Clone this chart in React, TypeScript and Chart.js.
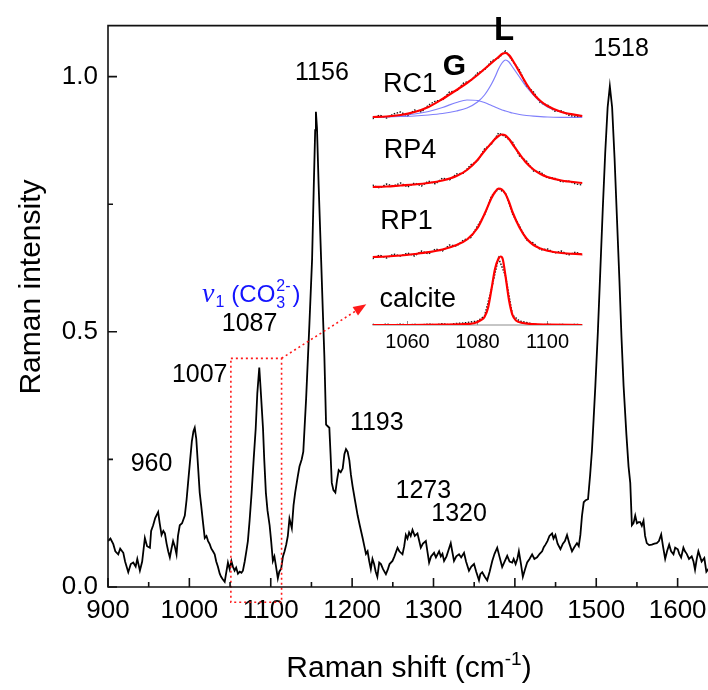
import React, { useEffect, useRef } from "react";
import { Chart, registerables } from "chart.js";

Chart.register(...registerables);

const SANS = "'Liberation Sans', Arial, sans-serif";
const SERIF = "'Liberation Serif', 'Times New Roman', serif";

// ---------- main spectrum ----------
const ramanShift = [
  900, 903, 906.5, 909, 912.6, 915, 918.8, 921, 924.9, 928,
  931, 934, 936, 939.2, 942, 945.3, 948, 951.5, 953, 955.5,
  958, 961.6, 963.5, 965.8, 968, 969.9, 972, 974, 976, 978,
  980, 982, 984.2, 986, 988.2, 991, 994.4, 996.5, 998.4, 1001,
  1003, 1005, 1006.6, 1008.5, 1010.5, 1012.7, 1014.5, 1016.5, 1018.9, 1021,
  1023, 1025, 1027, 1029, 1031.1, 1033, 1035, 1037.3, 1039, 1041,
  1043.4, 1045.5, 1047.4, 1049.5, 1051.6, 1053.5, 1055.6, 1057.5, 1059.7, 1062,
  1064, 1065.8, 1068, 1070, 1071.9, 1074, 1076.5, 1079, 1081.5, 1083.5,
  1085.9, 1087.5, 1089, 1090.5, 1092, 1094, 1096, 1098.6, 1100.5, 1102.6,
  1104.5, 1106.5, 1108.7, 1110.5, 1112.8, 1115, 1117, 1119, 1121, 1123,
  1125.9, 1128, 1130, 1133, 1135.3, 1138, 1140, 1143.5, 1147.5, 1150.8,
  1152.8, 1154.6, 1155.5, 1156.8, 1158.8, 1161.9, 1164, 1165.9, 1168, 1170,
  1172, 1173.5, 1175, 1177, 1179.4, 1181.5, 1183.5, 1186, 1188.4, 1190.5,
  1192.5, 1194.5, 1196.6, 1198.5, 1200.6, 1203.5, 1206.8, 1209.5, 1212.9, 1215,
  1217, 1219, 1221, 1223, 1225, 1227, 1229, 1231, 1233.3, 1235.4,
  1238, 1241.5, 1244, 1246, 1249.6, 1252, 1255.8, 1258, 1261.9, 1264,
  1266, 1268, 1270, 1272, 1274.2, 1277, 1280.3, 1282.5, 1284.4, 1287,
  1290.6, 1292.5, 1294.6, 1297, 1300.7, 1303, 1306.9, 1309, 1311, 1313,
  1316, 1318, 1321.2, 1323, 1325.2, 1328, 1331.4, 1334, 1337.5, 1340,
  1343.6, 1346.5, 1349.8, 1352.5, 1355.9, 1357.5, 1359.9, 1363, 1366, 1369,
  1372.2, 1375, 1378.3, 1381, 1384.4, 1387.5, 1390.6, 1393.5, 1396.7, 1398.5,
  1400.9, 1403, 1404.9, 1407.5, 1409.8, 1412.5, 1415.1, 1418, 1421.2, 1424,
  1427.3, 1430.5, 1433.5, 1435.5, 1437.6, 1440, 1442.5, 1445.7, 1447.5, 1449.8,
  1452.5, 1456, 1459, 1461.5, 1464.1, 1467, 1470.2, 1473, 1476.3, 1478.5,
  1480.5, 1482.5, 1484.6, 1487, 1489.9, 1492.5, 1494.7, 1496.8, 1498.9, 1502,
  1505, 1508, 1511, 1514, 1516.7, 1519.5, 1522.5, 1525.5, 1528.5, 1531,
  1533.6, 1537, 1539.7, 1541.8, 1543.8, 1545.8, 1547.9, 1550, 1552, 1554,
  1556, 1558.1, 1560, 1562.1, 1565, 1568.3, 1571.5, 1574.4, 1577, 1579.8,
  1582, 1584.7, 1587, 1589.6, 1592, 1594.9, 1597, 1600.2, 1602, 1604.3,
  1607.1, 1609, 1611.2, 1614, 1617.3, 1619.5, 1621.4, 1623.5, 1625.5, 1627.5,
  1629.5, 1632.8, 1635.3, 1640,
];
const ramanIntensity = [
  0.09, 0.095, 0.084, 0.07, 0.064, 0.075, 0.067, 0.05, 0.029, 0.045,
  0.048, 0.04, 0.055, 0.032, 0.05, 0.096, 0.08, 0.077, 0.11, 0.121,
  0.135, 0.147, 0.125, 0.102, 0.11, 0.105, 0.085, 0.07, 0.058, 0.075,
  0.09, 0.08, 0.064, 0.1, 0.121, 0.125, 0.14, 0.17, 0.204, 0.25,
  0.285, 0.305, 0.312, 0.29, 0.24, 0.185, 0.16, 0.13, 0.096, 0.1,
  0.09, 0.084, 0.075, 0.07, 0.064, 0.05, 0.04, 0.026, 0.02, 0.015,
  0.01, 0.03, 0.048, 0.035, 0.051, 0.04, 0.032, 0.038, 0.026, 0.03,
  0.028, 0.032, 0.05, 0.07, 0.09, 0.13, 0.185, 0.25, 0.31, 0.38,
  0.43, 0.39, 0.35, 0.31, 0.25, 0.185, 0.15, 0.121, 0.09, 0.051,
  0.06, 0.04, 0.017, 0.03, 0.036, 0.06, 0.07, 0.083, 0.1, 0.134,
  0.115, 0.16, 0.185, 0.215, 0.236, 0.25, 0.265, 0.37, 0.515, 0.642,
  0.78, 0.895, 0.931, 0.9, 0.79, 0.642, 0.54, 0.451, 0.318, 0.315,
  0.312, 0.26, 0.204, 0.19, 0.185, 0.21, 0.229, 0.225, 0.232, 0.26,
  0.27, 0.265, 0.248, 0.22, 0.197, 0.17, 0.14, 0.12, 0.096, 0.08,
  0.065, 0.07, 0.051, 0.035, 0.055, 0.045, 0.03, 0.02, 0.048, 0.045,
  0.035, 0.025, 0.035, 0.045, 0.051, 0.06, 0.077, 0.07, 0.064, 0.08,
  0.102, 0.095, 0.107, 0.1, 0.112, 0.1, 0.105, 0.09, 0.077, 0.085,
  0.09, 0.07, 0.048, 0.06, 0.067, 0.058, 0.07, 0.06, 0.065, 0.051,
  0.06, 0.07, 0.086, 0.07, 0.051, 0.06, 0.064, 0.058, 0.067, 0.05,
  0.032, 0.04, 0.045, 0.03, 0.013, 0.025, 0.029, 0.02, 0.013, 0.03,
  0.051, 0.065, 0.077, 0.06, 0.039, 0.05, 0.061, 0.05, 0.048, 0.055,
  0.045, 0.055, 0.07, 0.045, 0.02, 0.035, 0.048, 0.055, 0.064, 0.055,
  0.058, 0.065, 0.07, 0.078, 0.083, 0.09, 0.1, 0.105, 0.095, 0.102,
  0.085, 0.074, 0.085, 0.09, 0.102, 0.085, 0.07, 0.078, 0.086, 0.08,
  0.102, 0.14, 0.166, 0.17, 0.172, 0.22, 0.267, 0.33, 0.394, 0.5,
  0.62, 0.74, 0.85, 0.94, 0.981, 0.94, 0.84, 0.72, 0.6, 0.49,
  0.394, 0.3, 0.236, 0.204, 0.121, 0.125, 0.14, 0.125, 0.127, 0.127,
  0.12, 0.13, 0.1, 0.086, 0.082, 0.083, 0.085, 0.086, 0.09, 0.103,
  0.08, 0.055, 0.07, 0.083, 0.07, 0.064, 0.077, 0.074, 0.065, 0.058,
  0.077, 0.07, 0.065, 0.055, 0.06, 0.05, 0.034, 0.055, 0.07, 0.06,
  0.05, 0.057, 0.03, 0.04,
];

const xTickValues = [900, 1000, 1100, 1200, 1300, 1400, 1500, 1600];
const xMinorTickValues = [950, 1050, 1150, 1250, 1350, 1450, 1550, 1650];
const yTickValues = [0, 0.5, 1.0];
const yMinorTickValues = [0.25, 0.75];

const peakLabels = ["960", "1007", "1087", "1156", "1193", "1273", "1320", "1518"];
const peakLabelShift = [953.5, 1012.7, 1074, 1162.9, 1230.3, 1287.5, 1331.4, 1530.5];
const peakLabelIntensity = [0.24, 0.415, 0.516, 1.007, 0.322, 0.187, 0.142, 1.053];

// zoom box (shift range, intensity range) and arrow tip
const boxShift = [1051, 1113.3];
const boxIntensity = [-0.03, 0.448];
const arrowTip = [1217.4, 0.554];
const nuAnchor = [1015.5, 0.558];

// ---------- inset ----------
const insetFitX = [1050, 1054, 1058, 1062, 1066, 1070, 1074, 1077, 1080, 1082, 1084, 1085, 1086, 1087, 1088, 1089, 1090, 1092, 1094, 1096, 1098, 1100, 1104, 1110];
const rc1Fit = [2.08, 2.085, 2.1, 2.13, 2.18, 2.26, 2.35, 2.42, 2.5, 2.56, 2.62, 2.65, 2.68, 2.71, 2.72, 2.7, 2.65, 2.53, 2.41, 2.31, 2.24, 2.19, 2.13, 2.09];
const rc1G = [2.08, 2.085, 2.095, 2.11, 2.135, 2.175, 2.225, 2.25, 2.245, 2.225, 2.195, 2.18, 2.165, 2.15, 2.14, 2.13, 2.12, 2.105, 2.095, 2.088, 2.083, 2.08, 2.077, 2.075];
const rc1L = [2.075, 2.08, 2.085, 2.09, 2.1, 2.115, 2.14, 2.17, 2.23, 2.3, 2.41, 2.48, 2.56, 2.62, 2.65, 2.63, 2.58, 2.48, 2.38, 2.3, 2.23, 2.18, 2.13, 2.09];
const rp4Fit = [1.38, 1.385, 1.395, 1.405, 1.42, 1.445, 1.49, 1.55, 1.65, 1.74, 1.82, 1.86, 1.89, 1.905, 1.895, 1.86, 1.81, 1.71, 1.62, 1.555, 1.51, 1.48, 1.445, 1.42];
const rp1Fit = [0.68, 0.685, 0.695, 0.71, 0.728, 0.755, 0.8, 0.855, 0.97, 1.11, 1.27, 1.33, 1.365, 1.355, 1.31, 1.23, 1.13, 0.975, 0.865, 0.8, 0.765, 0.742, 0.72, 0.707];
const calciteX = [1050, 1060, 1070, 1076, 1079, 1081, 1082, 1083, 1084, 1085, 1086, 1086.6, 1087.2, 1088, 1089, 1090, 1091, 1093, 1096, 1100, 1110];
const calciteFit = [0, 0, 0.003, 0.008, 0.017, 0.05, 0.08, 0.17, 0.36, 0.56, 0.665, 0.685, 0.66, 0.49, 0.25, 0.1, 0.045, 0.02, 0.008, 0.004, 0];

const insetRawX = [
  1050, 1052, 1054, 1056, 1058, 1060, 1062, 1064, 1066, 1068, 1070, 1072, 1074, 1076, 1078, 1080,
  1082, 1084, 1086, 1088, 1090, 1092, 1094, 1096, 1098, 1100, 1102, 1104, 1106, 1108, 1110,
];
const rc1Raw = [2.06, 2.1, 2.07, 2.11, 2.13, 2.09, 2.15, 2.13, 2.2, 2.24, 2.25, 2.33, 2.34, 2.42, 2.44, 2.52, 2.55, 2.64, 2.67, 2.74, 2.64, 2.55, 2.39, 2.33, 2.22, 2.2, 2.14, 2.14, 2.1, 2.08, 2.09];
const rp4Raw = [1.4, 1.37, 1.41, 1.39, 1.42, 1.38, 1.42, 1.39, 1.44, 1.41, 1.47, 1.45, 1.51, 1.52, 1.6, 1.64, 1.76, 1.81, 1.92, 1.88, 1.83, 1.69, 1.64, 1.54, 1.53, 1.47, 1.47, 1.43, 1.44, 1.41, 1.4];
const rp1Raw = [0.66, 0.7, 0.67, 0.71, 0.69, 0.72, 0.69, 0.74, 0.71, 0.76, 0.74, 0.8, 0.79, 0.85, 0.87, 0.99, 1.1, 1.29, 1.36, 1.32, 1.11, 0.99, 0.85, 0.82, 0.75, 0.76, 0.72, 0.74, 0.7, 0.73, 0.7];
const calciteRaw = [0.006, 0.0, 0.008, 0.001, 0.009, 0.0, 0.006, 0.0, 0.01, 0.002, 0.012, 0.003, 0.016, 0.02, 0.03, 0.04, 0.09, 0.36, 0.67, 0.49, 0.1, 0.04, 0.025, 0.008, 0.0, 0.008, 0.0, 0.006, 0.0, 0.007, 0.0];

const insetTickValues = [1060, 1080, 1100];
const insetLabels = ["RC1", "RP4", "RP1", "calcite"];
const insetLabelX = [1060.7, 1060.7, 1059.7, 1062.9];
const insetLabelY = [2.4, 1.74, 1.03, 0.25];
const componentLabels = ["G", "L"];
const componentLabelX = [1073.4, 1087.6];
const componentLabelY = [2.585, 2.945];

const pts = (xs: number[], ys: number[]) => xs.map((x, i) => ({ x, y: ys[i] }));

const mainDecor = {
  id: "mainDecor",
  afterDatasetsDraw(chart: any) {
    const { ctx } = chart;
    const x = chart.scales.x;
    const y = chart.scales.y;
    ctx.save();
    ctx.strokeStyle = "#ff1a1a";
    ctx.lineWidth = 1.6;
    ctx.setLineDash([2, 3]);
    const bx0 = x.getPixelForValue(boxShift[0]);
    const bx1 = x.getPixelForValue(boxShift[1]);
    const byB = y.getPixelForValue(boxIntensity[0]);
    const byT = y.getPixelForValue(boxIntensity[1]);
    ctx.beginPath();
    ctx.rect(bx0, byT, bx1 - bx0, byB - byT);
    ctx.stroke();
    const tx = x.getPixelForValue(arrowTip[0]);
    const ty = y.getPixelForValue(arrowTip[1]);
    const ang = Math.atan2(ty - byT, tx - bx1);
    const hl = 13;
    const hw = 5;
    const bxh = tx - hl * Math.cos(ang);
    const byh = ty - hl * Math.sin(ang);
    ctx.beginPath();
    ctx.moveTo(bx1, byT);
    ctx.lineTo(bxh, byh);
    ctx.stroke();
    ctx.setLineDash([]);
    ctx.fillStyle = "#ff1a1a";
    ctx.beginPath();
    ctx.moveTo(tx, ty);
    ctx.lineTo(bxh + hw * Math.sin(ang), byh - hw * Math.cos(ang));
    ctx.lineTo(bxh - hw * Math.sin(ang), byh + hw * Math.cos(ang));
    ctx.closePath();
    ctx.fill();
    ctx.restore();
  },
  afterDraw(chart: any) {
    const { ctx, chartArea: ca } = chart;
    const x = chart.scales.x;
    const y = chart.scales.y;
    ctx.save();
    ctx.strokeStyle = "#111";
    ctx.lineWidth = 1.6;
    ctx.beginPath();
    ctx.moveTo(ca.right, ca.top);
    ctx.lineTo(ca.left, ca.top);
    ctx.lineTo(ca.left, ca.bottom);
    ctx.lineTo(ca.right, ca.bottom);
    ctx.stroke();
    ctx.beginPath();
    xTickValues.forEach((v) => {
      const p = x.getPixelForValue(v);
      ctx.moveTo(p, ca.bottom);
      ctx.lineTo(p, ca.bottom - 9);
    });
    xMinorTickValues.forEach((v) => {
      const p = x.getPixelForValue(v);
      ctx.moveTo(p, ca.bottom);
      ctx.lineTo(p, ca.bottom - 5);
    });
    yTickValues.forEach((v) => {
      const p = y.getPixelForValue(v);
      ctx.moveTo(ca.left, p);
      ctx.lineTo(ca.left + 9, p);
    });
    yMinorTickValues.forEach((v) => {
      const p = y.getPixelForValue(v);
      ctx.moveTo(ca.left, p);
      ctx.lineTo(ca.left + 5, p);
    });
    ctx.stroke();

    // peak labels
    ctx.fillStyle = "#000";
    ctx.font = `25px ${SANS}`;
    ctx.textAlign = "center";
    ctx.textBaseline = "middle";
    peakLabels.forEach((t, i) => {
      ctx.fillText(t, x.getPixelForValue(peakLabelShift[i]), y.getPixelForValue(peakLabelIntensity[i]));
    });

    // nu1 (CO3 2-)
    ctx.fillStyle = "#1414ff";
    ctx.textAlign = "left";
    ctx.textBaseline = "alphabetic";
    let cx = x.getPixelForValue(nuAnchor[0]);
    const base = y.getPixelForValue(nuAnchor[1]);
    ctx.font = `italic 28px ${SERIF}`;
    ctx.fillText("ν", cx, base);
    cx += ctx.measureText("ν").width + 1;
    ctx.font = `16px ${SANS}`;
    ctx.fillText("1", cx, base + 5);
    cx += ctx.measureText("1").width + 7;
    ctx.font = `24px ${SANS}`;
    ctx.fillText("(CO", cx, base);
    cx += ctx.measureText("(CO").width + 1;
    ctx.font = `16px ${SANS}`;
    ctx.fillText("3", cx, base + 6);
    ctx.fillText("2-", cx, base - 11);
    cx += ctx.measureText("2-").width + 2;
    ctx.font = `24px ${SANS}`;
    ctx.fillText(")", cx, base);

    // axis titles
    ctx.fillStyle = "#000";
    ctx.font = `30px ${SANS}`;
    ctx.save();
    ctx.translate(32, 287);
    ctx.rotate(-Math.PI / 2);
    ctx.textAlign = "center";
    ctx.textBaseline = "middle";
    ctx.fillText("Raman intensity", 0, 0);
    ctx.restore();

    const main = "Raman shift (cm";
    const sup = "-1";
    const close = ")";
    ctx.font = `30px ${SANS}`;
    const w1 = ctx.measureText(main).width;
    const w3 = ctx.measureText(close).width;
    ctx.font = `19px ${SANS}`;
    const w2 = ctx.measureText(sup).width;
    let sx = 409 - (w1 + w2 + w3) / 2;
    const sb = 677;
    ctx.textAlign = "left";
    ctx.textBaseline = "alphabetic";
    ctx.font = `30px ${SANS}`;
    ctx.fillText(main, sx, sb);
    sx += w1;
    ctx.font = `19px ${SANS}`;
    ctx.fillText(sup, sx, sb - 12);
    sx += w2;
    ctx.font = `30px ${SANS}`;
    ctx.fillText(close, sx, sb);
    ctx.restore();
  },
};

const insetDecor = {
  id: "insetDecor",
  beforeDatasetsDraw(chart: any) {
    const { ctx, chartArea: ca } = chart;
    const x = chart.scales.x;
    ctx.save();
    ctx.strokeStyle = "#8c8c8c";
    ctx.lineWidth = 1;
    ctx.beginPath();
    ctx.moveTo(ca.left, ca.bottom);
    ctx.lineTo(ca.right, ca.bottom);
    insetTickValues.forEach((v) => {
      const p = x.getPixelForValue(v);
      ctx.moveTo(p, ca.bottom);
      ctx.lineTo(p, ca.bottom - 4);
    });
    ctx.stroke();
    ctx.restore();
  },
  afterDraw(chart: any) {
    const { ctx } = chart;
    const x = chart.scales.x;
    const y = chart.scales.y;
    ctx.save();
    ctx.fillStyle = "#000";
    ctx.textAlign = "center";
    ctx.textBaseline = "middle";
    ctx.font = `27px ${SANS}`;
    insetLabels.forEach((t, i) => {
      ctx.fillText(t, x.getPixelForValue(insetLabelX[i]), y.getPixelForValue(insetLabelY[i]));
    });
    ctx.font = `bold 30px ${SANS}`;
    ctx.fillText(componentLabels[0], x.getPixelForValue(componentLabelX[0]), y.getPixelForValue(componentLabelY[0]));
    ctx.font = `bold 33px ${SANS}`;
    ctx.fillText(componentLabels[1], x.getPixelForValue(componentLabelX[1]), y.getPixelForValue(componentLabelY[1]));
    ctx.restore();
  },
};

export default function App() {
  const mainRef = useRef<HTMLCanvasElement>(null);
  const insetRef = useRef<HTMLCanvasElement>(null);

  useEffect(() => {
    const main = new Chart(mainRef.current as HTMLCanvasElement, {
      type: "line",
      data: {
        datasets: [
          {
            data: pts(ramanShift, ramanIntensity),
            borderColor: "#000",
            borderWidth: 1.8,
            pointRadius: 0,
            tension: 0,
            fill: false,
          },
        ],
      },
      options: {
        responsive: false,
        animation: false,
        events: [],
        layout: { padding: { left: 0, right: 1, top: 9, bottom: 0 } },
        plugins: { legend: { display: false }, tooltip: { enabled: false } },
        scales: {
          x: {
            type: "linear",
            min: 900,
            max: 1700,
            grid: { display: false, drawTicks: false },
            border: { display: false },
            ticks: {
              font: { family: SANS, size: 26 },
              color: "#000",
              padding: 8,
              autoSkip: false,
              maxRotation: 0,
              callback: (v: any) => String(v),
            },
            afterBuildTicks: (s: any) => {
              s.ticks = xTickValues.map((v) => ({ value: v }));
            },
            afterFit: (s: any) => {
              s.height = 103;
            },
          },
          y: {
            type: "linear",
            min: 0,
            max: 1.1,
            grid: { display: false, drawTicks: false },
            border: { display: false },
            ticks: {
              font: { family: SANS, size: 26 },
              color: "#000",
              padding: 10,
              callback: (v: any) => Number(v).toFixed(1),
            },
            afterBuildTicks: (s: any) => {
              s.ticks = yTickValues.map((v) => ({ value: v }));
            },
            afterFit: (s: any) => {
              s.width = 108;
            },
          },
        },
      },
      plugins: [mainDecor],
    } as any);

    const red = "#ff0000";
    const blue = "rgba(105,105,250,0.85)";
    const fitSet = (xs: number[], ys: number[]) => ({
      data: pts(xs, ys),
      borderColor: red,
      borderWidth: 2.2,
      pointRadius: 0,
      cubicInterpolationMode: "monotone",
      order: 0,
    });
    const compSet = (ys: number[]) => ({
      data: pts(insetFitX, ys),
      borderColor: blue,
      borderWidth: 1.2,
      pointRadius: 0,
      cubicInterpolationMode: "monotone",
      order: 1,
    });
    const rawSet = (ys: number[]) => ({
      data: pts(insetRawX, ys),
      borderColor: "#111",
      borderWidth: 1.4,
      borderDash: [1.5, 1.5],
      pointRadius: 0,
      tension: 0,
      order: 2,
    });

    const inset = new Chart(insetRef.current as HTMLCanvasElement, {
      type: "line",
      data: {
        datasets: [
          fitSet(insetFitX, rc1Fit),
          fitSet(insetFitX, rp4Fit),
          fitSet(insetFitX, rp1Fit),
          fitSet(calciteX, calciteFit),
          compSet(rc1G),
          compSet(rc1L),
          rawSet(rc1Raw),
          rawSet(rp4Raw),
          rawSet(rp1Raw),
          rawSet(calciteRaw),
        ],
      },
      options: {
        responsive: false,
        animation: false,
        events: [],
        layout: { padding: { left: 372.5, right: 125.5, top: 25, bottom: 335 } },
        plugins: { legend: { display: false }, tooltip: { enabled: false } },
        scales: {
          x: {
            type: "linear",
            min: 1050,
            max: 1110,
            grid: { display: false, drawTicks: false },
            border: { display: false },
            ticks: {
              font: { family: SANS, size: 20 },
              color: "#000",
              padding: 5,
              autoSkip: false,
              maxRotation: 0,
              callback: (v: any) => String(v),
            },
            afterBuildTicks: (s: any) => {
              s.ticks = insetTickValues.map((v) => ({ value: v }));
            },
            afterFit: (s: any) => {
              s.height = 30;
            },
          },
          y: { type: "linear", display: false, min: 0, max: 3 },
        },
      },
      plugins: [insetDecor],
    } as any);

    return () => {
      main.destroy();
      inset.destroy();
    };
  }, []);

  return (
    <div
      style={{
        position: "absolute",
        left: 0,
        top: 0,
        width: 708,
        height: 690,
        overflow: "hidden",
        background: "#fff",
      }}
    >
      <canvas ref={mainRef} width={760} height={690} style={{ position: "absolute", left: 0, top: 0 }} />
      <canvas ref={insetRef} width={708} height={690} style={{ position: "absolute", left: 0, top: 0 }} />
    </div>
  );
}
